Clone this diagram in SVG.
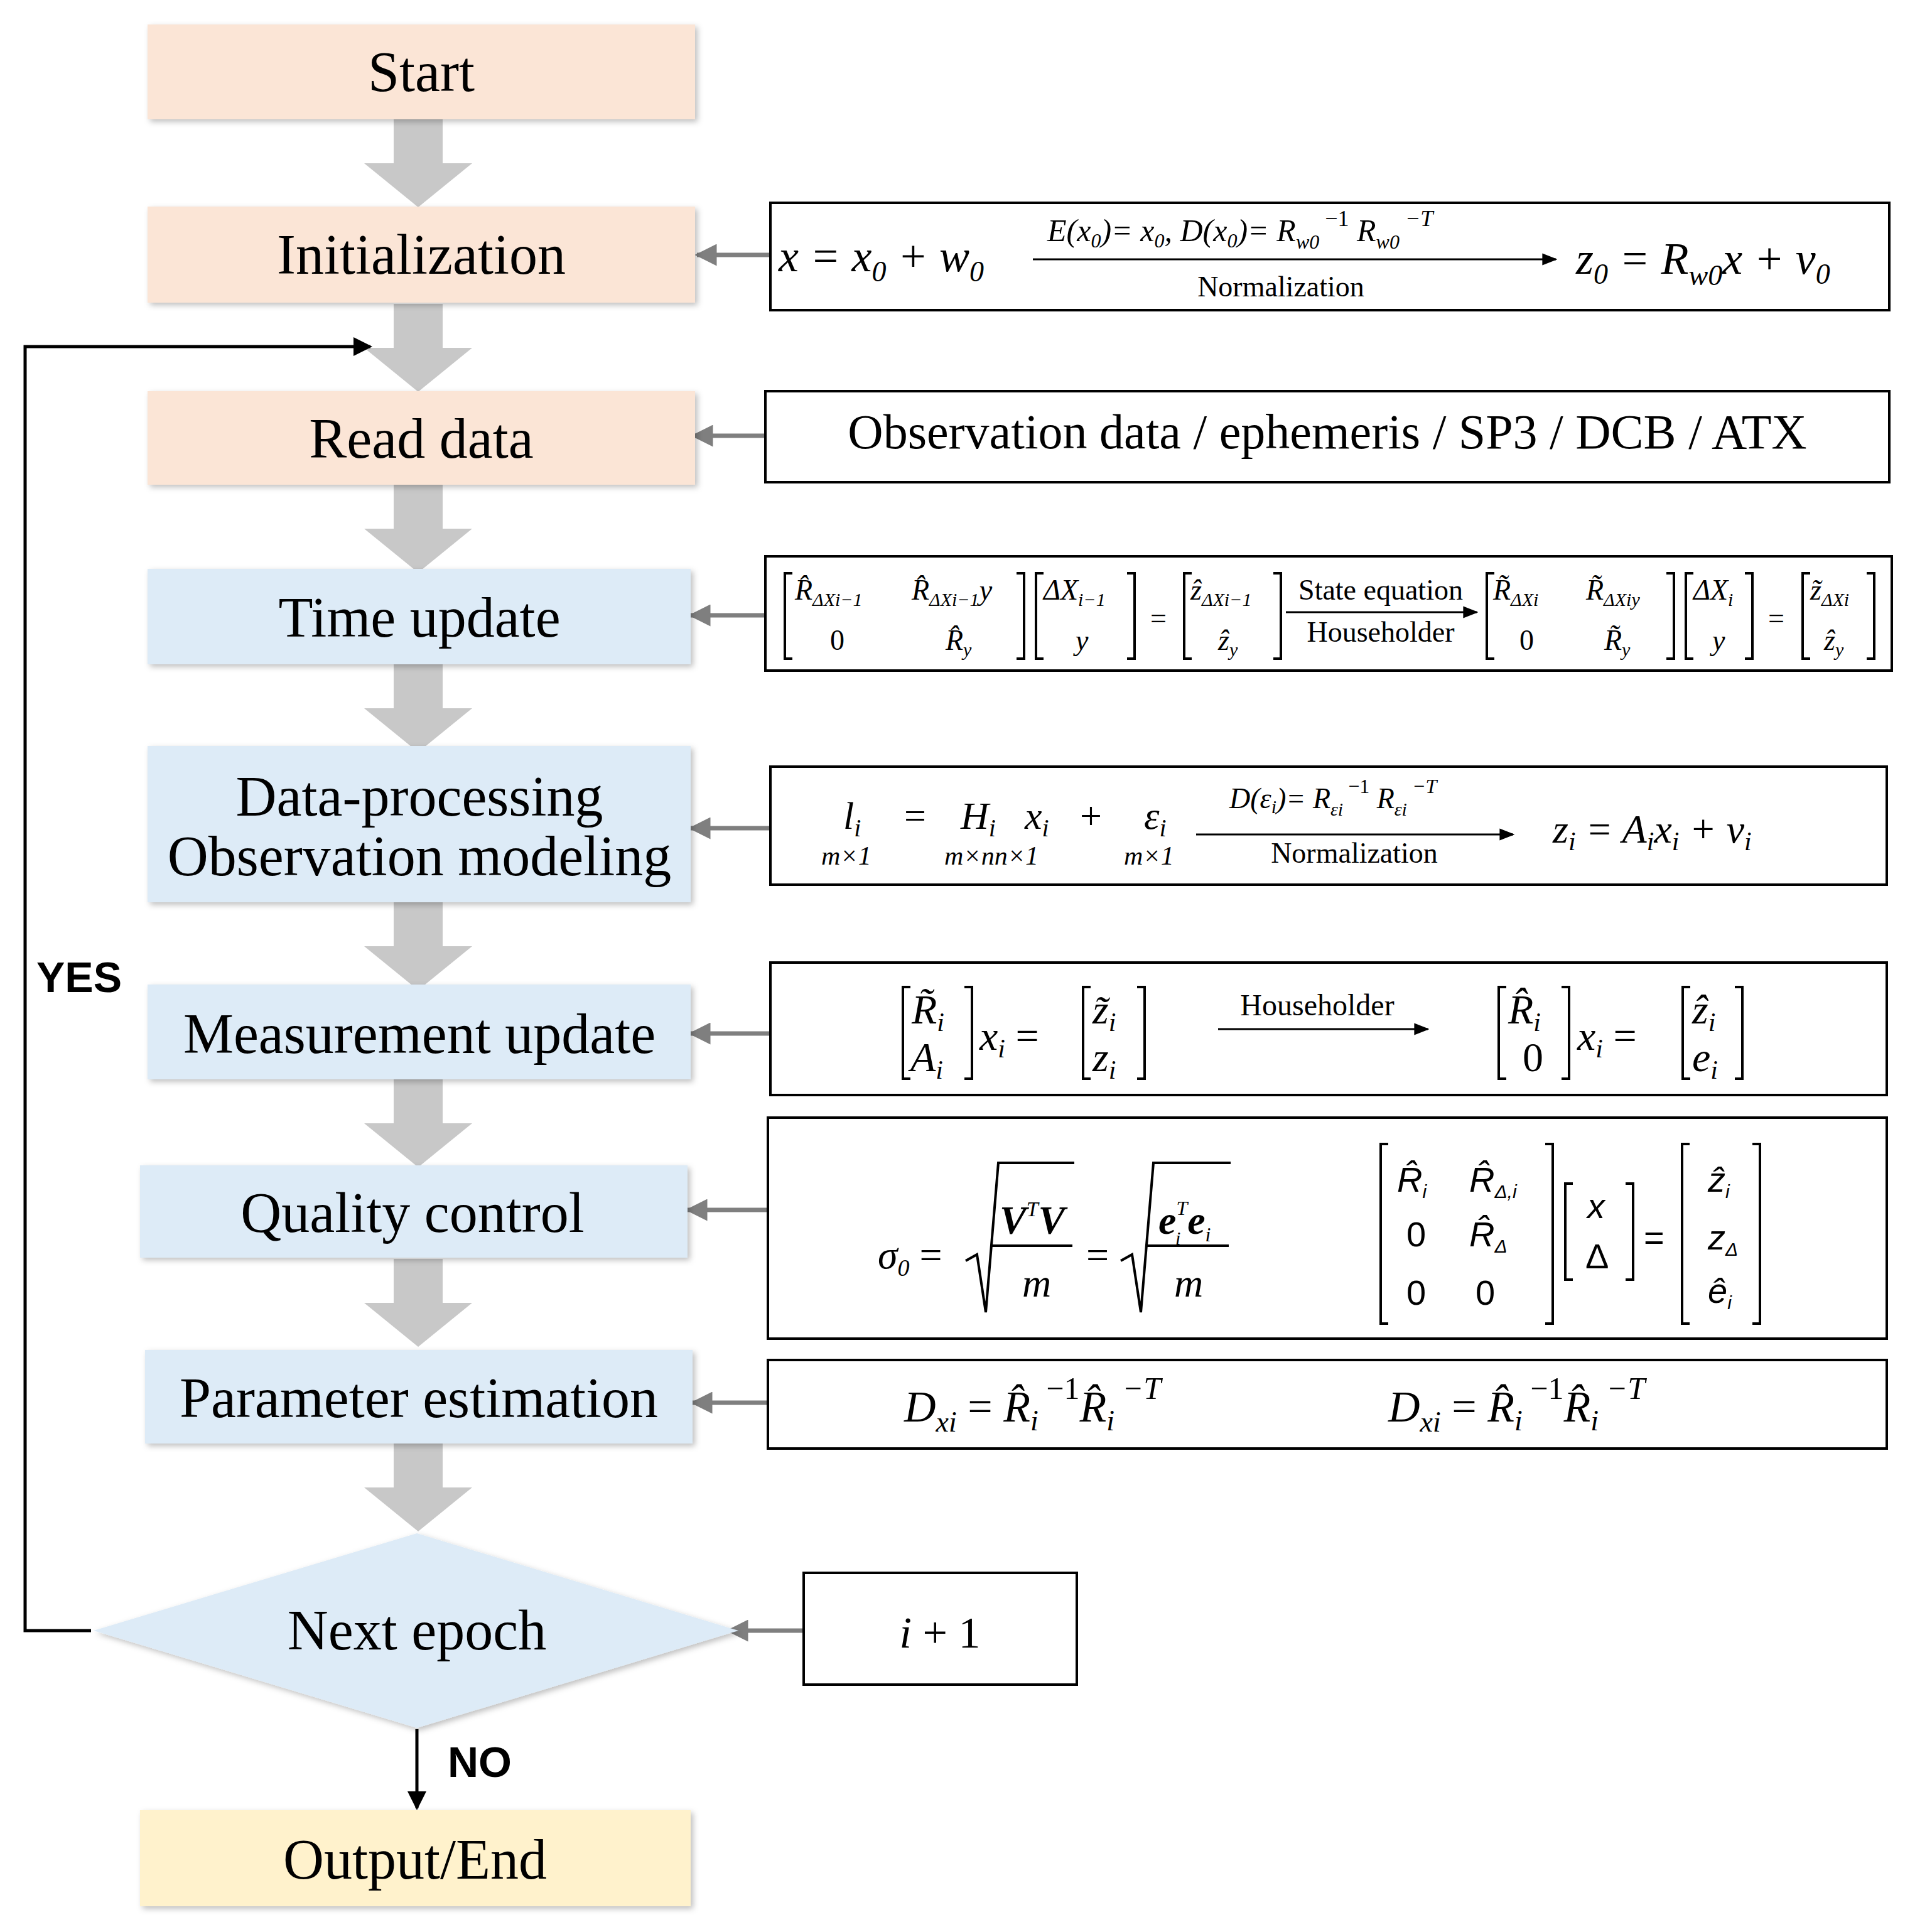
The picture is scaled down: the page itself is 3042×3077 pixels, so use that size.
<svg xmlns="http://www.w3.org/2000/svg" width="3042" height="3077" viewBox="0 0 3042 3077">
<defs>
<style>
.lbl{font-family:"Liberation Serif",serif;font-size:90px;fill:#000;text-anchor:middle}
.m{font-family:"Liberation Serif",serif;font-style:italic;fill:#000}
.r{font-family:"Liberation Serif",serif;font-style:normal;fill:#000}
.s{font-family:"Liberation Sans",sans-serif;fill:#000}
.box{stroke:#000;stroke-width:4;fill:#fff}
.pe{fill:#fbe5d6}.bl{fill:#ddebf7}.ye{fill:#fff2cc}
.br{fill:none;stroke:#000;stroke-width:4}
.con{stroke:#7f7f7f;stroke-width:7;fill:none;marker-end:url(#ga)}
</style>
<marker id="ga" viewBox="0 0 10 10" refX="9" refY="5" markerWidth="5" markerHeight="5" orient="auto"><path d="M0,0L10,5L0,10z" fill="#7f7f7f"/></marker>
<marker id="ba" viewBox="0 0 10 10" refX="9" refY="5" markerWidth="6" markerHeight="6" orient="auto"><path d="M0,0L10,5L0,10z" fill="#000"/></marker>
<marker id="sa" viewBox="0 0 10 10" refX="9" refY="5" markerWidth="8" markerHeight="8" orient="auto"><path d="M0,1L10,5L0,9z" fill="#000"/></marker>
<filter id="sh" x="-5%" y="-10%" width="110%" height="130%"><feDropShadow dx="4" dy="4" stdDeviation="5" flood-color="#000" flood-opacity="0.25"/></filter>
<path id="blk" d="M-39,0H39V70H86L0,140L-86,70H-39Z" fill="#c8c8c8"/>
</defs>
<rect width="3042" height="3077" fill="#fff"/>

<g id="connectors">
<use href="#blk" x="666" y="190"/>
<use href="#blk" x="666" y="484"/>
<use href="#blk" x="666" y="772"/>
<use href="#blk" x="666" y="1058"/>
<use href="#blk" x="666" y="1437"/>
<use href="#blk" x="666" y="1719"/>
<use href="#blk" x="666" y="2005"/>
<use href="#blk" x="666" y="2299"/>
<line class="con" x1="1227" y1="406" x2="1110" y2="406"/>
<line class="con" x1="1219" y1="694" x2="1104" y2="694"/>
<line class="con" x1="1219" y1="980" x2="1100" y2="980"/>
<line class="con" x1="1227" y1="1319" x2="1100" y2="1319"/>
<line class="con" x1="1227" y1="1646" x2="1100" y2="1646"/>
<line class="con" x1="1223" y1="1927" x2="1095" y2="1927"/>
<line class="con" x1="1223" y1="2234" x2="1103" y2="2234"/>
<line class="con" x1="1280" y1="2597" x2="1160" y2="2597"/>
<polyline points="145,2597 40,2597 40,552 590,552" fill="none" stroke="#000" stroke-width="5" marker-end="url(#ba)"/>
<line x1="664" y1="2754" x2="664" y2="2880" stroke="#000" stroke-width="5" marker-end="url(#ba)"/>
<text x="58" y="1580" font-family="Liberation Sans,sans-serif" font-weight="bold" font-size="68">YES</text>
<text x="713" y="2830" font-family="Liberation Sans,sans-serif" font-weight="bold" font-size="68">NO</text>
</g>

<g id="start"><rect class="pe" x="235" y="39" width="872" height="151" filter="url(#sh)"/><text class="lbl" x="671" y="145">Start</text></g>
<g id="init"><rect class="pe" x="235" y="329" width="872" height="153" filter="url(#sh)"/><text class="lbl" x="671" y="436">Initialization</text></g>
<g id="read"><rect class="pe" x="235" y="623" width="872" height="149" filter="url(#sh)"/><text class="lbl" x="671" y="729">Read data</text></g>
<g id="time"><rect class="bl" x="235" y="906" width="865" height="152" filter="url(#sh)"/><text class="lbl" x="668" y="1014">Time update</text></g>
<g id="dataproc"><rect class="bl" x="235" y="1188" width="865" height="249" filter="url(#sh)"/><text class="lbl" x="668" y="1299">Data-processing</text><text class="lbl" x="668" y="1394" font-size="71">Observation modeling</text></g>
<g id="meas"><rect class="bl" x="235" y="1568" width="865" height="151" filter="url(#sh)"/><text class="lbl" x="668" y="1677">Measurement update</text></g>
<g id="qc"><rect class="bl" x="223" y="1856" width="872" height="147" filter="url(#sh)"/><text class="lbl" x="657" y="1962">Quality control</text></g>
<g id="param"><rect class="bl" x="231" y="2150" width="872" height="149" filter="url(#sh)"/><text class="lbl" x="667" y="2257">Parameter estimation</text></g>
<g id="next"><polygon class="bl" points="664,2442 1176,2597 664,2752 149,2597" filter="url(#sh)"/><text class="lbl" x="664" y="2627">Next epoch</text></g>
<g id="output"><rect class="ye" x="223" y="2883" width="877" height="153" filter="url(#sh)"/><text class="lbl" x="661" y="2992">Output/End</text></g>

<g id="f-init"><rect class="box" x="1227" y="323" width="1782" height="171"/>
<text class="m" x="1240" y="432" font-size="72">x = x<tspan font-size="46" dy="16">0</tspan><tspan dy="-16"> + w</tspan><tspan font-size="46" dy="16">0</tspan></text>
<text class="m" x="1668" y="384" font-size="50">E(x<tspan font-size="32" dy="10">0</tspan><tspan dy="-10">)= x</tspan><tspan font-size="32" dy="10">0</tspan><tspan dy="-10">, D(x</tspan><tspan font-size="32" dy="10">0</tspan><tspan dy="-10">)= R</tspan><tspan font-size="32" dy="12">w0</tspan><tspan class="r" font-size="36" dy="-36"> −1</tspan><tspan dy="24"> R</tspan><tspan font-size="32" dy="12">w0</tspan><tspan font-size="36" dy="-36"> −T</tspan></text>
<line x1="1645" y1="413" x2="2478" y2="413" stroke="#000" stroke-width="3" marker-end="url(#sa)"/>
<text class="r" x="2040" y="472" font-size="46" text-anchor="middle">Normalization</text>
<text class="m" x="2510" y="436" font-size="72">z<tspan font-size="46" dy="16">0</tspan><tspan dy="-16"> = R</tspan><tspan font-size="46" dy="18">w0</tspan><tspan dy="-18">x + v</tspan><tspan font-size="46" dy="16">0</tspan></text>
</g>

<g id="f-read"><rect class="box" x="1219" y="623" width="1790" height="145"/>
<text class="r" x="2114" y="714" font-size="78" text-anchor="middle">Observation data / ephemeris / SP3 / DCB / ATX</text></g>

<g id="f-time"><rect class="box" x="1219" y="886" width="1794" height="182"/>
<g class="br"><path d="M1262,913H1250V1049H1262"/><path d="M1619,913H1631V1049H1619"/><path d="M1662,913H1650V1049H1662"/><path d="M1795,913H1807V1049H1795"/><path d="M1898,913H1886V1049H1898"/><path d="M2028,913H2040V1049H2028"/><path d="M2380,913H2368V1049H2380"/><path d="M2654,913H2666V1049H2654"/><path d="M2697,913H2685V1049H2697"/><path d="M2779,913H2791V1049H2779"/><path d="M2883,913H2871V1049H2883"/><path d="M2973,913H2985V1049H2973"/></g>
<g class="m" font-size="46">
<text x="1266" y="955">R̂<tspan font-size="30" dy="10">ΔXi−1</tspan></text>
<text x="1452" y="955">R̂<tspan font-size="30" dy="10">ΔXi−1</tspan><tspan dy="-10" font-size="46">y</tspan></text>
<text x="1322" y="1035" class="r">0</text>
<text x="1506" y="1035">R̂<tspan font-size="30" dy="10">y</tspan></text>
<text x="1662" y="955">ΔX<tspan font-size="30" dy="10">i−1</tspan></text>
<text x="1713" y="1035">y</text>
<text x="1832" y="1000" class="r">=</text>
<text x="1896" y="955">ẑ<tspan font-size="30" dy="10">ΔXi−1</tspan></text>
<text x="1940" y="1035">ẑ<tspan font-size="30" dy="10">y</tspan></text>
<text x="2378" y="955">R̃<tspan font-size="30" dy="10">ΔXi</tspan></text>
<text x="2526" y="955">R̃<tspan font-size="30" dy="10">ΔXiy</tspan></text>
<text x="2420" y="1035" class="r">0</text>
<text x="2555" y="1035">R̃<tspan font-size="30" dy="10">y</tspan></text>
<text x="2697" y="955">ΔX<tspan font-size="30" dy="10">i</tspan></text>
<text x="2727" y="1035">y</text>
<text x="2816" y="1000" class="r">=</text>
<text x="2883" y="955">z̃<tspan font-size="30" dy="10">ΔXi</tspan></text>
<text x="2905" y="1035">ẑ<tspan font-size="30" dy="10">y</tspan></text>
</g>
<text class="r" x="2199" y="955" font-size="46" text-anchor="middle">State equation</text>
<line x1="2048" y1="975" x2="2352" y2="975" stroke="#000" stroke-width="3" marker-end="url(#sa)"/>
<text class="r" x="2199" y="1022" font-size="46" text-anchor="middle">Householder</text>
</g>

<g id="f-dp"><rect class="box" x="1227" y="1221" width="1778" height="188"/>
<g class="m" font-size="62">
<text x="1343" y="1320">l<tspan font-size="40" dy="12">i</tspan></text>
<text x="1440" y="1320" class="r">=</text>
<text x="1530" y="1320">H<tspan font-size="40" dy="12">i</tspan></text>
<text x="1632" y="1320">x<tspan font-size="40" dy="12">i</tspan></text>
<text x="1720" y="1320" class="r">+</text>
<text x="1822" y="1320">ε<tspan font-size="40" dy="12">i</tspan></text>
<text x="1308" y="1377" font-size="42">m×1</text>
<text x="1504" y="1377" font-size="42">m×nn×1</text>
<text x="1790" y="1377" font-size="42">m×1</text>
<text x="1958" y="1287" font-size="46">D(ε<tspan font-size="30" dy="8">i</tspan><tspan dy="-8">)= R</tspan><tspan font-size="30" dy="12">εi</tspan><tspan class="r" font-size="32" dy="-36"> −1</tspan><tspan dy="24"> R</tspan><tspan font-size="30" dy="12">εi</tspan><tspan font-size="32" dy="-36"> −T</tspan></text>
<text x="2473" y="1342" font-size="64">z<tspan font-size="42" dy="12">i</tspan><tspan dy="-12"> = A</tspan><tspan font-size="42" dy="12">i</tspan><tspan dy="-12">x</tspan><tspan font-size="42" dy="12">i</tspan><tspan dy="-12"> + v</tspan><tspan font-size="42" dy="12">i</tspan></text>
</g>
<line x1="1905" y1="1329" x2="2410" y2="1329" stroke="#000" stroke-width="3" marker-end="url(#sa)"/>
<text class="r" x="2157" y="1374" font-size="46" text-anchor="middle">Normalization</text>
</g>

<g id="f-meas"><rect class="box" x="1227" y="1533" width="1778" height="211"/>
<g class="br"><path d="M1450,1572H1438V1718H1450"/><path d="M1536,1572H1548V1718H1536"/><path d="M1737,1572H1725V1718H1737"/><path d="M1811,1572H1823V1718H1811"/><path d="M2399,1572H2387V1718H2399"/><path d="M2487,1572H2499V1718H2487"/><path d="M2692,1572H2680V1718H2692"/><path d="M2763,1572H2775V1718H2763"/></g>
<g class="m" font-size="66">
<text x="1452" y="1630">R̃<tspan font-size="42" dy="12">i</tspan></text>
<text x="1450" y="1706">A<tspan font-size="42" dy="12">i</tspan></text>
<text x="1560" y="1672">x<tspan font-size="42" dy="12">i</tspan><tspan dy="-12" class="r"> =</tspan></text>
<text x="1740" y="1630">z̃<tspan font-size="42" dy="12">i</tspan></text>
<text x="1740" y="1706">z<tspan font-size="42" dy="12">i</tspan></text>
<text x="2402" y="1630">R̂<tspan font-size="42" dy="12">i</tspan></text>
<text x="2425" y="1706" class="r">0</text>
<text x="2512" y="1672">x<tspan font-size="42" dy="12">i</tspan><tspan dy="-12" class="r"> =</tspan></text>
<text x="2695" y="1630">ẑ<tspan font-size="42" dy="12">i</tspan></text>
<text x="2695" y="1706">e<tspan font-size="42" dy="12">i</tspan></text>
</g>
<text class="r" x="2098" y="1617" font-size="48" text-anchor="middle">Householder</text>
<line x1="1940" y1="1639" x2="2274" y2="1639" stroke="#000" stroke-width="3" marker-end="url(#sa)"/>
</g>

<g id="f-qc"><rect class="box" x="1223" y="1780" width="1782" height="352"/>
<g class="m" font-size="64">
<text x="1398" y="2020">σ<tspan font-size="38" dy="12">0</tspan><tspan dy="-12" class="r"> =</tspan></text>
<text x="1592" y="1965" font-weight="bold">V<tspan font-size="34" dy="-28" font-weight="normal">T</tspan><tspan dy="28">V</tspan></text>
<text x="1628" y="2065">m</text>
<text x="1730" y="2020" class="r">=</text>
<text x="1845" y="1965" font-weight="bold">e<tspan font-size="32" dy="-30" font-weight="normal">T</tspan><tspan dy="30">e</tspan><tspan font-size="32" dy="12" font-weight="normal">i</tspan></text>
<text x="1872" y="1982" font-size="30">i</text>
<text x="1870" y="2065">m</text>
</g>
<path d="M1538,2008L1556,1998L1570,2090L1590,1852H1711M1578,1984H1708" fill="none" stroke="#000" stroke-width="4"/>
<path d="M1785,2008L1803,1998L1817,2090L1837,1852H1960M1825,1984H1957" fill="none" stroke="#000" stroke-width="4"/>
<g class="br"><path d="M2211,1822H2199V2108H2211"/><path d="M2461,1822H2473V2108H2461"/><path d="M2505,1885H2493V2038H2505"/><path d="M2589,1885H2601V2038H2589"/><path d="M2691,1822H2679V2108H2691"/><path d="M2791,1822H2803V2108H2791"/></g>
<g class="s" font-size="56">
<text x="2225" y="1898" font-style="italic">R̂<tspan font-size="30" dy="10">i</tspan></text>
<text x="2340" y="1898" font-style="italic">R̂<tspan font-size="30" dy="10">Δ,i</tspan></text>
<text x="2240" y="1985">0</text>
<text x="2340" y="1985" font-style="italic">R̂<tspan font-size="30" dy="10">Δ</tspan></text>
<text x="2240" y="2078">0</text>
<text x="2350" y="2078">0</text>
<text x="2528" y="1940" font-style="italic">x</text>
<text x="2525" y="2020">Δ</text>
<text x="2618" y="1990">=</text>
<text x="2720" y="1898" font-style="italic">ẑ<tspan font-size="30" dy="10">i</tspan></text>
<text x="2720" y="1990" font-style="italic">z<tspan font-size="30" dy="10">Δ</tspan></text>
<text x="2720" y="2075" font-style="italic">ê<tspan font-size="30" dy="10">i</tspan></text>
</g>
</g>

<g id="f-param"><rect class="box" x="1223" y="2166" width="1782" height="141"/>
<g class="m" font-size="70">
<text x="1440" y="2264">D<tspan font-size="46" dy="16">xi</tspan><tspan dy="-16" class="r"> = </tspan>R̂<tspan font-size="46" dy="14">i</tspan><tspan font-size="50" dy="-50" class="r"> −1</tspan><tspan dy="36">R̂</tspan><tspan font-size="46" dy="14">i</tspan><tspan font-size="50" dy="-50"> −T</tspan></text>
<text x="2211" y="2264">D<tspan font-size="46" dy="16">xi</tspan><tspan dy="-16" class="r"> = </tspan>R̂<tspan font-size="46" dy="14">i</tspan><tspan font-size="50" dy="-50" class="r"> −1</tspan><tspan dy="36">R̂</tspan><tspan font-size="46" dy="14">i</tspan><tspan font-size="50" dy="-50"> −T</tspan></text>
</g>
</g>

<g id="f-i1"><rect class="box" x="1280" y="2505" width="435" height="178"/>
<text class="r" x="1497" y="2624" font-size="70" text-anchor="middle"><tspan font-style="italic">i</tspan> + 1</text></g>
</svg>
